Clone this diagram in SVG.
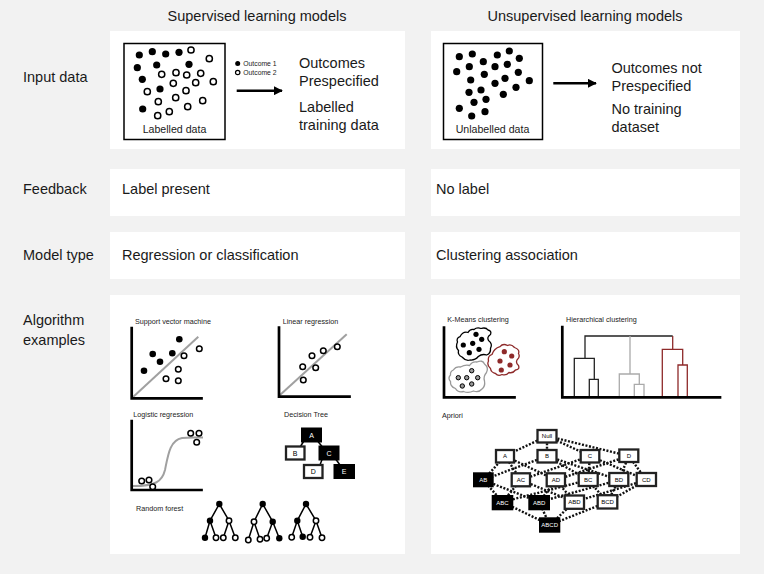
<svg xmlns="http://www.w3.org/2000/svg" width="764" height="574" viewBox="0 0 764 574">
<defs>
<style>
.t{font-family:"Liberation Sans",Arial,sans-serif;font-size:14.5px;fill:#1a1a1a}
.s{font-family:"Liberation Sans",Arial,sans-serif;font-size:7.2px;fill:#222}
.m{font-family:"Liberation Sans",Arial,sans-serif;font-size:10.6px;fill:#1a1a1a}
.lg{font-family:"Liberation Sans",Arial,sans-serif;font-size:6.8px;fill:#1a1a1a}
.nl{font-family:"Liberation Sans",Arial,sans-serif;font-size:6px;text-anchor:middle}
.dl{font-family:"Liberation Sans",Arial,sans-serif;font-size:7px;text-anchor:middle}
.panel{fill:#fff}
.ax{fill:none;stroke:#000;stroke-width:2.7;stroke-linecap:square}
.gl{stroke:#a0a0a0;stroke-width:2;fill:none}
.f{fill:#000}
.o{fill:#fff;stroke:#000;stroke-width:1.5}
.e{stroke:#000;stroke-width:1.5;fill:none}
.dt{stroke:#111;stroke-width:2.4;stroke-dasharray:2 1.6;fill:none}
.bw{fill:#fff;stroke:#222;stroke-width:2.3}
.bk{fill:#000;stroke:#000;stroke-width:2}
.dk{stroke:#222;stroke-width:1.3;fill:none}
.dg{stroke:#aaa;stroke-width:1.3;fill:none}
.dr{stroke:#8e2a2a;stroke-width:1.3;fill:none}
</style>
<marker id="ah" viewBox="0 0 10 10" refX="9" refY="5" markerWidth="3.6" markerHeight="3.6" orient="auto" markerUnits="strokeWidth">
<path d="M0,0 L10,5 L0,10 z" fill="#000"/>
</marker>
</defs>
<rect width="764" height="574" fill="#f2f2f2"/>

<g id="headers">
<text class="t" x="257" y="21" text-anchor="middle">Supervised learning models</text>
<text class="t" x="585" y="21" text-anchor="middle">Unsupervised learning models</text>
</g>

<g id="row-labels">
<text class="t" x="23" y="82">Input data</text>
<text class="t" x="23" y="194">Feedback</text>
<text class="t" x="23" y="260">Model type</text>
<text class="t" x="23" y="325">Algorithm</text>
<text class="t" x="23" y="345">examples</text>
</g>

<g id="panels">
<rect class="panel" x="110" y="31" width="295" height="118"/>
<rect class="panel" x="431" y="31" width="309" height="118"/>
<rect class="panel" x="110" y="169" width="295" height="47"/>
<rect class="panel" x="431" y="169" width="309" height="47"/>
<rect class="panel" x="110" y="232" width="295" height="47"/>
<rect class="panel" x="431" y="232" width="309" height="47"/>
<rect class="panel" x="110" y="295" width="295" height="259"/>
<rect class="panel" x="431" y="295" width="309" height="259"/>
</g>

<g id="labelled-data">
<rect x="124" y="43.5" width="101" height="96" fill="#fff" stroke="#000" stroke-width="1.5"/>
<g class="f">
<circle cx="139.3" cy="55" r="3.6"/><circle cx="152.3" cy="51.7" r="3.6"/><circle cx="165.7" cy="54" r="3.6"/><circle cx="179" cy="52.3" r="3.6"/>
<circle cx="137.3" cy="67.7" r="3.6"/><circle cx="156.7" cy="65" r="3.6"/><circle cx="189" cy="64.3" r="3.6"/><circle cx="142.3" cy="79.3" r="3.6"/>
<circle cx="160" cy="89" r="3.6"/><circle cx="142.7" cy="109" r="3.6"/>
</g>
<g class="o">
<circle cx="191" cy="50" r="3.1"/><circle cx="209.3" cy="58.7" r="3.1"/><circle cx="161.7" cy="74.3" r="3.1"/><circle cx="176" cy="72.7" r="3.1"/>
<circle cx="186.7" cy="75" r="3.1"/><circle cx="200.7" cy="73.3" r="3.1"/><circle cx="195.7" cy="82.7" r="3.1"/><circle cx="213.3" cy="81.7" r="3.1"/>
<circle cx="173.3" cy="83.3" r="3.1"/><circle cx="147.3" cy="91.7" r="3.1"/><circle cx="186" cy="90.7" r="3.1"/><circle cx="175.7" cy="97.7" r="3.1"/>
<circle cx="158.3" cy="101.7" r="3.1"/><circle cx="202.7" cy="100.7" r="3.1"/><circle cx="187.7" cy="106.7" r="3.1"/><circle cx="169.3" cy="111.7" r="3.1"/>
<circle cx="157.7" cy="115.7" r="3.1"/>
</g>
<text class="m" x="174.5" y="133" text-anchor="middle">Labelled data</text>
</g>
<g id="legend">
<circle cx="237.7" cy="63.5" r="2.5" class="f"/>
<circle cx="237.7" cy="72.5" r="2.2" fill="#fff" stroke="#000" stroke-width="1.2"/>
<text class="lg" x="243.3" y="66">Outcome 1</text>
<text class="lg" x="243.3" y="75">Outcome 2</text>
</g>
<g id="sup-text">
<text class="t" x="299" y="67.5">Outcomes</text>
<text class="t" x="299" y="86">Prespecified</text>
<text class="t" x="299" y="112">Labelled</text>
<text class="t" x="299" y="130">training data</text>
</g>

<g id="unlabelled-data">
<rect x="443.5" y="43.5" width="99" height="96" fill="#fff" stroke="#000" stroke-width="1.5"/>
<g class="f">
<circle cx="459.3" cy="56.7" r="3.6"/><circle cx="472.3" cy="54" r="3.6"/><circle cx="497.3" cy="55" r="3.6"/><circle cx="509.3" cy="51" r="3.6"/>
<circle cx="519.3" cy="58.3" r="3.6"/><circle cx="483.3" cy="61.7" r="3.6"/><circle cx="456.7" cy="71.7" r="3.6"/><circle cx="469.3" cy="66.7" r="3.6"/>
<circle cx="495" cy="66.7" r="3.6"/><circle cx="507.3" cy="64.3" r="3.6"/><circle cx="484.3" cy="74.3" r="3.6"/><circle cx="470.7" cy="80" r="3.6"/>
<circle cx="505" cy="78.3" r="3.6"/><circle cx="518.3" cy="72.3" r="3.6"/><circle cx="495" cy="83.3" r="3.6"/><circle cx="529.3" cy="80.7" r="3.6"/>
<circle cx="469" cy="92.3" r="3.6"/><circle cx="481" cy="90" r="3.6"/><circle cx="516" cy="87.3" r="3.6"/><circle cx="503.3" cy="94.3" r="3.6"/>
<circle cx="486" cy="99.3" r="3.6"/><circle cx="474" cy="102.3" r="3.6"/><circle cx="459.3" cy="108.3" r="3.6"/><circle cx="485" cy="111.7" r="3.6"/>
<circle cx="471.7" cy="116" r="3.6"/>
</g>
<text class="m" x="492.5" y="133" text-anchor="middle">Unlabelled data</text>
</g>
<g id="unsup-text">
<text class="t" x="611.5" y="72.5">Outcomes not</text>
<text class="t" x="611.5" y="91">Prespecified</text>
<text class="t" x="611.5" y="113.5">No training</text>
<text class="t" x="611.5" y="132">dataset</text>
</g>

<g id="connectors">
<line x1="236.7" y1="90.7" x2="282" y2="90.7" stroke="#000" stroke-width="2.5" marker-end="url(#ah)"/>
<line x1="553.3" y1="83.3" x2="596" y2="83.3" stroke="#000" stroke-width="2.5" marker-end="url(#ah)"/>
</g>

<g id="feedback">
<text class="t" x="122" y="194">Label present</text>
<text class="t" x="436" y="194">No label</text>
</g>
<g id="model-type">
<text class="t" x="122" y="260">Regression or classification</text>
<text class="t" x="436" y="260">Clustering association</text>
</g>

<g id="svm">
<text class="s" x="135" y="324.3">Support vector machine</text>
<line class="gl" x1="132" y1="398" x2="198.3" y2="336.7"/>
<polyline class="ax" points="131.7,328 131.7,398.3 201.5,398.3"/>
<g class="f">
<circle cx="179.3" cy="339.3" r="3.3"/><circle cx="152.7" cy="354" r="3.3"/><circle cx="172.3" cy="353.3" r="3.3"/><circle cx="160" cy="361.7" r="3.3"/><circle cx="144" cy="370.7" r="3.3"/>
</g>
<g class="o">
<circle cx="199.3" cy="348.7" r="2.8"/><circle cx="184" cy="355.7" r="2.8"/><circle cx="178.3" cy="369.3" r="2.8"/><circle cx="166" cy="378.7" r="2.8"/><circle cx="178.3" cy="380.7" r="2.8"/>
</g>
</g>

<g id="linear-regression">
<text class="s" x="282.7" y="324.3">Linear regression</text>
<line class="gl" x1="280" y1="395" x2="346.7" y2="334.3"/>
<polyline class="ax" points="279,327.5 279,396.7 349.5,396.7"/>
<g class="o">
<circle cx="337.3" cy="346.7" r="2.8"/><circle cx="323.3" cy="350.7" r="2.8"/><circle cx="312" cy="355.7" r="2.8"/><circle cx="302.7" cy="366.7" r="2.8"/><circle cx="315.7" cy="367.7" r="2.8"/><circle cx="303.3" cy="380" r="2.8"/>
</g>
</g>

<g id="logistic-regression">
<text class="s" x="133.3" y="416.7">Logistic regression</text>
<path class="gl" d="M133,486 C155,486 162,482 165,470 C168,455 170,440 182,438 C190,437 196,437.5 203,437.5"/>
<polyline class="ax" points="131.7,421 131.7,490 201.5,490"/>
<g class="o">
<circle cx="190.7" cy="433.3" r="2.8"/><circle cx="199" cy="433.3" r="2.8"/><circle cx="196.7" cy="442.3" r="2.8"/>
<circle cx="141.7" cy="481" r="2.8"/><circle cx="149" cy="480" r="2.8"/><circle cx="152.7" cy="486.7" r="2.8"/>
</g>
</g>

<g id="decision-tree">
<text class="s" x="284" y="416.7">Decision Tree</text>
<g class="e">
<line x1="303.5" y1="441.5" x2="300.5" y2="446.5"/><line x1="318" y1="441.5" x2="322" y2="446.5"/>
<line x1="322" y1="459.5" x2="320" y2="465"/><line x1="336" y1="459.5" x2="340" y2="465"/>
</g>
<g id="dt-A"><rect class="bk" x="302" y="428.5" width="19" height="13"/><text class="dl" x="311.5" y="437.5" fill="#fff">A</text></g>
<g id="dt-B"><rect class="bw" x="286" y="446.5" width="18.5" height="13"/><text class="dl" x="295.2" y="455.5" fill="#000">B</text></g>
<g id="dt-C"><rect class="bk" x="319.5" y="446.5" width="19" height="13"/><text class="dl" x="329" y="455.5" fill="#fff">C</text></g>
<g id="dt-D"><rect class="bw" x="304" y="465" width="18.5" height="13"/><text class="dl" x="313.2" y="474" fill="#000">D</text></g>
<g id="dt-E"><rect class="bk" x="334.5" y="465" width="19.5" height="13"/><text class="dl" x="344.2" y="474" fill="#fff">E</text></g>
</g>

<g id="random-forest">
<text class="s" x="136" y="511">Random forest</text>
<g class="e">
<path d="M219.3,504 L210,520.7 M219.3,504 L229,520.7 M210,520.7 L205,537.7 M210,520.7 L216,537.7 M229,520.7 L223.3,537.7 M229,520.7 L235.3,537.7"/>
<path d="M262.7,504 L254,521.7 M262.7,504 L272.7,521.7 M254,521.7 L248.3,540 M254,521.7 L260,539.3 M272.7,521.7 L266.7,538.3 M272.7,521.7 L279.3,538.3"/>
<path d="M306,504 L297.3,520.7 M306,504 L316,520.7 M297.3,520.7 L291.7,537.3 M297.3,520.7 L302.7,536.7 M316,520.7 L310,537.3 M316,520.7 L322,537.7"/>
</g>
<g class="f">
<circle cx="219.3" cy="504" r="3.2"/><circle cx="210" cy="520.7" r="3.2"/><circle cx="205" cy="537.7" r="3.2"/>
<circle cx="262.7" cy="504" r="3.2"/><circle cx="272.7" cy="521.7" r="3.2"/><circle cx="279.3" cy="538.3" r="3.2"/>
<circle cx="306" cy="504" r="3.2"/><circle cx="297.3" cy="520.7" r="3.2"/><circle cx="302.7" cy="536.7" r="3.2"/>
</g>
<g class="o">
<circle cx="229" cy="520.7" r="2.7"/><circle cx="216" cy="537.7" r="2.7"/><circle cx="223.3" cy="537.7" r="2.7"/><circle cx="235.3" cy="537.7" r="2.7"/>
<circle cx="254" cy="521.7" r="2.7"/><circle cx="248.3" cy="540" r="2.7"/><circle cx="260" cy="539.3" r="2.7"/><circle cx="266.7" cy="538.3" r="2.7"/>
<circle cx="316" cy="520.7" r="2.7"/><circle cx="291.7" cy="537.3" r="2.7"/><circle cx="310" cy="537.3" r="2.7"/><circle cx="322" cy="537.7" r="2.7"/>
</g>
</g>

<g id="k-means">
<text class="s" x="447.3" y="322.3">K-Means clustering</text>
<polyline class="ax" points="444,327.5 444,397.3 514.5,397.3"/>
<path d="M460,336.7 Q463,331 468,332.5 Q470,328.5 474,329.5 Q477,327 481,328.5 Q486,327 488,330 Q492,331 490.5,334.5 Q486.5,337 488.5,340.5 Q493,344 490.5,348.3 Q491,353.5 486.7,355 Q482,353.5 478.3,356.5 Q475,360.5 470,360 Q466,361.5 462,357 Q457.5,355 458.5,350.5 Q455,347 457.5,342 Q456,338 460,336.7 Z" fill="#fff" stroke="#000" stroke-width="1.3"/>
<path d="M500,346.7 Q503,343 507.5,345.5 Q511,343.5 514.5,347.5 Q520,349.5 518.5,353.5 Q520.5,357 517,360 Q515.5,363 518.5,365.5 Q520,369.5 515.5,370 Q513,373.5 509,372.5 Q506,376 502,374.5 Q498,376.5 495.5,373.5 Q491,372.5 490.5,368.5 Q486.5,365 488.5,361 Q487.5,356 492,354.5 Q494,348.5 500,346.7 Z" fill="#fff" stroke="#8e2a2a" stroke-width="1.3"/>
<path d="M453.3,370 Q456,366 460.5,367 Q465,364.5 469.5,365.5 Q472.5,361 477,362 Q482.5,359.5 484.5,364 Q489,367.5 486.5,372.5 Q483,376.5 484.5,381 Q485.5,386.5 482,389 Q478.5,393 473.5,391 Q468.5,393.5 463.5,391.5 Q458,393 455.5,388.5 Q450,386.5 450.5,381.5 Q447.5,378 450.5,375 Q450,371.5 453.3,370 Z" fill="#fff" stroke="#999" stroke-width="1.3"/>
<g class="f">
<circle cx="476" cy="334.3" r="2.6"/><circle cx="481.7" cy="339.3" r="2.6"/><circle cx="463.3" cy="345" r="2.6"/><circle cx="472.7" cy="343.3" r="2.6"/><circle cx="469.3" cy="352.7" r="2.6"/><circle cx="479" cy="349.3" r="2.6"/>
</g>
<g fill="#8e2a2a">
<circle cx="504.3" cy="351.7" r="2.6"/><circle cx="511.7" cy="356" r="2.6"/><circle cx="500" cy="361" r="2.6"/><circle cx="510" cy="365" r="2.6"/><circle cx="501.3" cy="370" r="2.6"/>
</g>
<g fill="#999" stroke="#000" stroke-width="1">
<circle cx="471.7" cy="370.7" r="2.2"/><circle cx="458.3" cy="377.7" r="2.2"/><circle cx="466.7" cy="377.7" r="2.2"/><circle cx="477.7" cy="377.7" r="2.2"/><circle cx="462.3" cy="386" r="2.2"/><circle cx="471.7" cy="384" r="2.2"/>
</g>
</g>

<g id="hierarchical">
<text class="s" x="566" y="321.7">Hierarchical clustering</text>
<path class="dk" d="M585,358.3 V336 H672.7 M574.3,397 V358.3 H594.3 V379.3 M589.3,397 V379.3 H598.3 V397"/>
<path class="dg" d="M630,336 V374 M619.3,397 V374 H639.3 V384.3 M634.3,397 V384.3 H644 V397"/>
<path class="dr" d="M672.7,336 V349.3 M662.3,397 V349.3 H682.7 V365 M678,397 V365 H687.3 V397"/>
<polyline class="ax" points="562.3,327 562.3,397.3 720,397.3"/>
</g>

<g id="apriori">
<text class="s" x="442" y="418">Apriori</text>
<g class="dt">
<line x1="547" y1="436" x2="505" y2="456"/><line x1="547" y1="436" x2="547" y2="456"/><line x1="547" y1="436" x2="590" y2="456"/><line x1="547" y1="436" x2="628.8" y2="456"/>
<line x1="505" y1="456" x2="483.3" y2="480"/><line x1="505" y1="456" x2="520.8" y2="480"/><line x1="505" y1="456" x2="555.8" y2="480"/>
<line x1="547" y1="456" x2="483.3" y2="480"/><line x1="547" y1="456" x2="588" y2="480"/><line x1="547" y1="456" x2="618.8" y2="480"/>
<line x1="590" y1="456" x2="520.8" y2="480"/><line x1="590" y1="456" x2="588" y2="480"/><line x1="590" y1="456" x2="646.3" y2="480"/>
<line x1="628.8" y1="456" x2="555.8" y2="480"/><line x1="628.8" y1="456" x2="618.8" y2="480"/><line x1="628.8" y1="456" x2="646.3" y2="480"/>
<line x1="483.3" y1="480" x2="502.5" y2="502"/><line x1="483.3" y1="480" x2="539.2" y2="502"/>
<line x1="520.8" y1="480" x2="502.5" y2="502"/><line x1="520.8" y1="480" x2="574.3" y2="502"/>
<line x1="555.8" y1="480" x2="539.2" y2="502"/><line x1="555.8" y1="480" x2="574.3" y2="502"/>
<line x1="588" y1="480" x2="502.5" y2="502"/><line x1="588" y1="480" x2="607.5" y2="502"/>
<line x1="618.8" y1="480" x2="539.2" y2="502"/><line x1="618.8" y1="480" x2="607.5" y2="502"/>
<line x1="646.3" y1="480" x2="574.3" y2="502"/><line x1="646.3" y1="480" x2="607.5" y2="502"/>
<line x1="502.5" y1="502" x2="549.7" y2="525"/><line x1="539.2" y1="502" x2="549.7" y2="525"/><line x1="574.3" y1="502" x2="549.7" y2="525"/><line x1="607.5" y1="502" x2="549.7" y2="525"/>
</g>
<g id="ap-null"><rect class="bw" x="537.5" y="430" width="19" height="12.5"/><text class="nl" x="547" y="438.3">Null</text></g>
<g id="ap-A"><rect class="bw" x="496" y="450" width="18" height="12.5"/><text class="nl" x="505" y="458.3">A</text></g>
<g id="ap-B"><rect class="bw" x="537.5" y="450" width="19" height="12.5"/><text class="nl" x="547" y="458.3">B</text></g>
<g id="ap-C"><rect class="bw" x="580.7" y="450" width="18.6" height="12.5"/><text class="nl" x="590" y="458.3">C</text></g>
<g id="ap-D"><rect class="bw" x="619.3" y="449.5" width="19" height="12.5"/><text class="nl" x="628.8" y="457.8">D</text></g>
<g id="ap-AB"><rect class="bk" x="474" y="473.3" width="18.7" height="13"/><text class="nl" x="483.3" y="481.8" fill="#fff">AB</text></g>
<g id="ap-AC"><rect class="bw" x="511.7" y="473.3" width="18.3" height="13"/><text class="nl" x="520.8" y="481.8">AC</text></g>
<g id="ap-AD"><rect class="bw" x="546.7" y="473.3" width="18.3" height="13"/><text class="nl" x="555.8" y="481.8">AD</text></g>
<g id="ap-BC"><rect class="bw" x="578.7" y="473" width="19" height="13"/><text class="nl" x="588.2" y="481.5">BC</text></g>
<g id="ap-BD"><rect class="bw" x="609.3" y="473" width="19" height="13"/><text class="nl" x="618.8" y="481.5">BD</text></g>
<g id="ap-CD"><rect class="bw" x="636.7" y="473" width="19.3" height="13"/><text class="nl" x="646.3" y="481.5">CD</text></g>
<g id="ap-ABC"><rect class="bk" x="492.7" y="496" width="19.6" height="13.3"/><text class="nl" x="502.5" y="504.7" fill="#fff">ABC</text></g>
<g id="ap-ABD"><rect class="bk" x="529.3" y="496" width="19.7" height="13.3"/><text class="nl" x="539.2" y="504.7" fill="#fff">ABD</text></g>
<g id="ap-ABD2"><rect class="bw" x="564.7" y="495.5" width="19.3" height="13.3"/><text class="nl" x="574.3" y="504.2">ABD</text></g>
<g id="ap-BCD"><rect class="bw" x="597.7" y="495.2" width="19.6" height="13.3"/><text class="nl" x="607.5" y="503.9">BCD</text></g>
<g id="ap-ABCD"><rect class="bk" x="540" y="518.3" width="19.3" height="13.4"/><text class="nl" x="549.7" y="527.1" fill="#fff">ABCD</text></g>
</g>
</svg>
